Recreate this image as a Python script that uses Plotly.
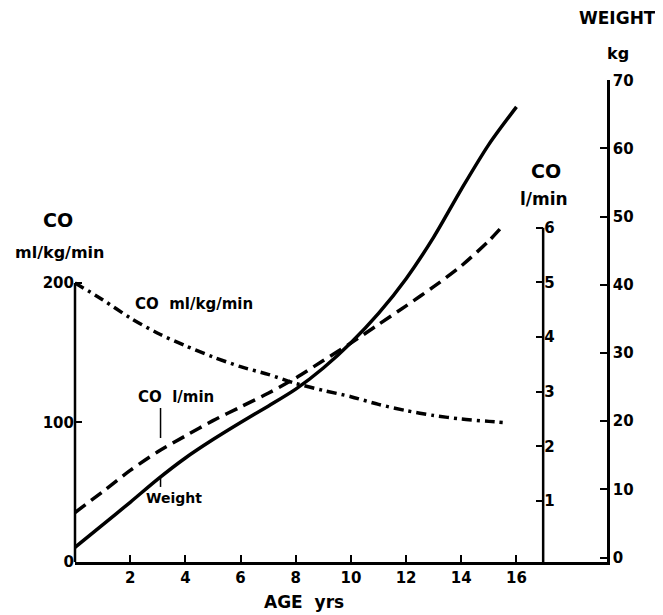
import plotly.graph_objects as go

# ---- data ----
age_co_kg = [0, 1, 2, 3, 4, 5, 6, 7, 8, 9, 10, 11, 12, 13, 14, 15, 15.5]
co_ml_kg_min = [200, 188, 175, 164, 155, 147, 140, 134.5, 128, 123, 118.5, 113, 108.5, 105, 102.5, 100.8, 100]

age_co_l = [0, 1, 2, 3, 4, 5, 6, 7, 8, 9, 10, 11, 12, 13, 14, 15, 15.5]
co_l_min = [0.79, 1.17, 1.56, 1.90, 2.19, 2.47, 2.72, 2.97, 3.25, 3.57, 3.89, 4.23, 4.57, 4.92, 5.30, 5.76, 6.03]

age_weight = [0, 1, 2, 3, 4, 5, 6, 7, 8, 9, 10, 11, 12, 13, 14, 15, 16]
weight_kg = [1.5, 4.8, 8.1, 11.5, 14.6, 17.3, 19.8, 22.2, 24.7, 27.8, 31.5, 35.8, 40.9, 47.0, 54.0, 60.6, 66.1]

age_ticks = [2, 4, 6, 8, 10, 12, 14, 16]
co_kg_ticks = [0, 100, 200]
co_l_ticks = [1, 2, 3, 4, 5, 6]
weight_ticks = [0, 10, 20, 30, 40, 50, 60, 70]

FONT = "DejaVu Sans"
BLK = "black"
LW = 3.5
CO_AXIS_POS = 0.880

fig = go.Figure()
fig.add_trace(go.Scatter(x=age_co_kg, y=co_ml_kg_min, mode="lines", yaxis="y",
                         line=dict(color=BLK, width=LW, dash="10px,5px,3px,5px", shape="spline", smoothing=0.8),
                         showlegend=False, hoverinfo="skip"))
fig.add_trace(go.Scatter(x=age_co_l, y=co_l_min, mode="lines", yaxis="y2",
                         line=dict(color=BLK, width=LW, dash="13px,7px", shape="spline", smoothing=0.8),
                         showlegend=False, hoverinfo="skip"))
fig.add_trace(go.Scatter(x=age_weight, y=weight_kg, mode="lines", yaxis="y3",
                         line=dict(color=BLK, width=LW, shape="spline", smoothing=0.8),
                         showlegend=False, hoverinfo="skip"))

tickfont = dict(family=FONT, size=15, color=BLK, weight="bold")

# the page body adds an 8px margin, so the figure is 655x607
fig.update_layout(
    width=655, height=607,
    margin=dict(l=67, r=56, t=72, b=53, autoexpand=False),
    paper_bgcolor="white", plot_bgcolor="white",
    showlegend=False,
    xaxis=dict(range=[0, 19.28], tickvals=age_ticks, ticks="inside", ticklen=7, tickwidth=2,
               tickcolor=BLK, showline=True, linecolor=BLK, linewidth=2.5, showgrid=False,
               zeroline=False, tickfont=tickfont, automargin=False),
    yaxis=dict(range=[0, 345.5], tickvals=co_kg_ticks, ticks="inside", ticklen=7, tickwidth=2,
               tickcolor=BLK, showline=False, showgrid=False, zeroline=False, tickfont=tickfont,
               automargin=False),
    yaxis2=dict(range=[-0.115, 8.70], tickvals=co_l_ticks, overlaying="y", anchor="free",
                position=CO_AXIS_POS, side="right", ticks="inside", ticklen=7, tickwidth=2,
                tickcolor=BLK, showline=False, showgrid=False, zeroline=False, tickfont=tickfont,
                automargin=False),
    yaxis3=dict(range=[-0.66, 70.04], tickvals=weight_ticks, overlaying="y", anchor="x",
                side="right", ticks="inside", ticklen=7, tickwidth=2, tickcolor=BLK,
                showline=True, linecolor=BLK, linewidth=2.5, showgrid=False, zeroline=False,
                tickfont=tickfont, automargin=False),
)

# axis lines of limited length (left and CO l/min axes)
fig.add_shape(type="line", xref="paper", yref="y", x0=0, x1=0, y0=0, y1=co_kg_ticks[-1],
              line=dict(color=BLK, width=2.5))
fig.add_shape(type="line", xref="paper", yref="y2", x0=CO_AXIS_POS, x1=CO_AXIS_POS,
              y0=-0.115, y1=co_l_ticks[-1], line=dict(color=BLK, width=2.5))

# leader lines for curve labels
fig.add_shape(type="line", xref="x", yref="y", x0=3.1, x1=3.1, y0=88.9, y1=110.4,
              line=dict(color=BLK, width=1.5))
fig.add_shape(type="line", xref="x", yref="y", x0=3.1, x1=3.1, y0=53.8, y1=60.9,
              line=dict(color=BLK, width=1.5))

def txt(text, x, y, size):
    fig.add_annotation(text=text, x=x, y=y, xref="paper", yref="paper", showarrow=False,
                       xanchor="center", yanchor="middle",
                       font=dict(family=FONT, size=size, color=BLK, weight="bold"))

txt("AGE  yrs", 0.430, -0.083, 17)
txt("CO  ml/kg/min", 0.2237, 0.535, 15)
txt("CO  l/min", 0.190, 0.342, 15)
txt("Weight", 0.187, 0.132, 14)
txt("CO", -0.032, 0.7095, 19)
txt("ml/kg/min", -0.030, 0.643, 16)
txt("CO", 0.886, 0.812, 19)
txt("l/min", 0.8816, 0.754, 17)
txt("WEIGHT", 1.019, 1.129, 17)
txt("kg", 1.0207, 1.056, 16)

fig.write_html("out.html")
